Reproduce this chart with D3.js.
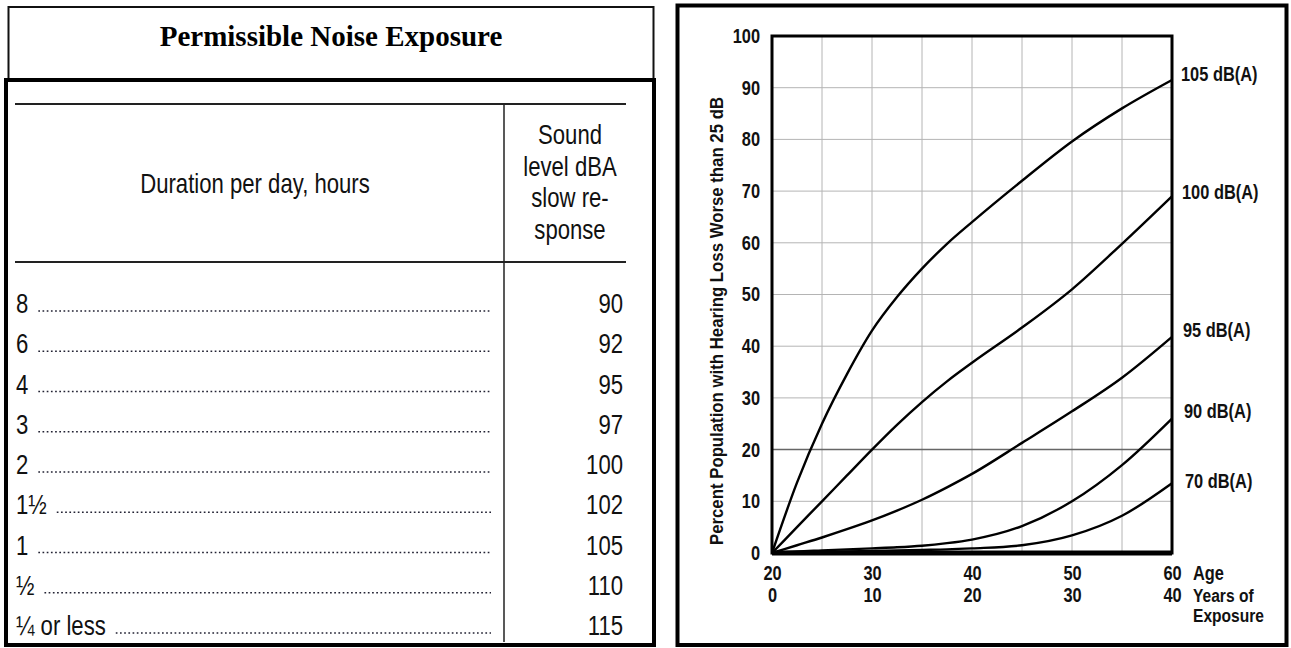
<!DOCTYPE html>
<html>
<head>
<meta charset="utf-8">
<script src="https://cdn.jsdelivr.net/npm/d3@7"></script>
<style>
  body { margin: 0; background: #fff; }
  svg { display: block; }
  .narrow { font-family: "Liberation Sans", Arial, sans-serif; }
</style>
</head>
<body>
<svg id="chart" width="1291" height="648"></svg>
<script>
// ---- table data (left) ----
const tableTitle = "Permissible Noise Exposure";
const durationHeader = "Duration per day, hours";
const levelHeader = ["Sound", "level dBA", "slow re-", "sponse"];
const durations = ["8", "6", "4", "3", "2", "1\u00BD", "1", "\u00BD", "\u00BC or less"];
const soundLevels = [90, 92, 95, 97, 100, 102, 105, 110, 115];

// ---- chart data (right) ----
const ages = [20, 22.5, 25, 27.5, 30, 32.5, 35, 37.5, 40, 45, 50, 55, 60];
const exposureYears = [0, 10, 20, 30, 40];
const curveNames = ["105 dB(A)", "100 dB(A)", "95 dB(A)", "90 dB(A)", "70 dB(A)"];
const loss105 = [0, 13.6, 25, 34.6, 43, 49.5, 55, 59.8, 64, 72, 79.6, 86, 91.5];
const loss100 = [0, 5, 10, 15, 20, 24.8, 29.2, 33.2, 36.8, 43.6, 51, 59.8, 69];
const loss95 = [0, 1.5, 3, 4.6, 6.3, 8.2, 10.3, 12.7, 15.3, 21.3, 27.4, 33.9, 41.8];
const loss90 = [0, 0.3, 0.5, 0.7, 0.9, 1.1, 1.4, 1.9, 2.6, 5.2, 10, 17, 26];
const loss70 = [0, 0.1, 0.2, 0.3, 0.4, 0.5, 0.6, 0.7, 0.9, 1.5, 3.4, 7.2, 13.5];
const yTicks = d3.range(0, 101, 10);
const ageTicks = [20, 30, 40, 50, 60];

const SX = 0.82;   // horizontal squeeze to mimic a condensed face

let svg = d3.select("#chart");

// place a squeezed text at (x, y)
function squeezed(sel, x, y) {
    return sel.attr("x", 0).attr("y", 0)
              .attr("transform", "translate(" + x + "," + y + ") scale(" + SX + ",1)");
}

// ================= left: table =================
let tbl = svg.append("g");

// title box
tbl.append("rect").attr("x", 8.5).attr("y", 7).attr("width", 645).attr("height", 72)
   .attr("fill", "none").attr("stroke", "#111").attr("stroke-width", 2);
tbl.append("text").attr("x", 331).attr("y", 46).attr("text-anchor", "middle")
   .style("font-family", "'Liberation Serif', 'Times New Roman', serif")
   .style("font-weight", "bold").style("font-size", "29px").attr("fill", "#000")
   .text(tableTitle);

// main box (thick)
tbl.append("rect").attr("x", 6).attr("y", 80).attr("width", 648).attr("height", 565)
   .attr("fill", "none").attr("stroke", "#000").attr("stroke-width", 4);

// rules
tbl.append("line").attr("x1", 15).attr("x2", 626).attr("y1", 104).attr("y2", 104)
   .attr("stroke", "#222").attr("stroke-width", 1.8);
tbl.append("line").attr("x1", 15).attr("x2", 626).attr("y1", 262).attr("y2", 262)
   .attr("stroke", "#222").attr("stroke-width", 1.8);
tbl.append("line").attr("x1", 504).attr("x2", 504).attr("y1", 104).attr("y2", 642)
   .attr("stroke", "#222").attr("stroke-width", 1.5);

// headers
tbl.append("text").attr("class", "narrow")
   .attr("text-anchor", "middle").style("font-size", "27px").attr("fill", "#111")
   .text(durationHeader)
   .call(squeezed, 255, 193);

tbl.selectAll("text.lvlhead")
   .data(levelHeader)
   .join("text")
   .attr("class", "lvlhead narrow")
   .attr("text-anchor", "middle")
   .style("font-size", "27px")
   .attr("fill", "#111")
   .text(d => d)
   .each(function (d, i) { d3.select(this).call(squeezed, 570, 144 + i * 31.5); });

// rows
let rowY = d3.scalePoint().domain(durations).range([313, 635]);

let rows = tbl.selectAll("g.row")
   .data(durations.map((d, i) => ({dur: d, level: soundLevels[i]})))
   .join("g")
   .attr("class", "row")
   .attr("transform", d => "translate(0," + rowY(d.dur) + ")");

rows.append("text").attr("class", "narrow dur")
    .style("font-size", "27px").attr("fill", "#111")
    .text(d => d.dur)
    .call(squeezed, 16, 0);

rows.append("text").attr("class", "narrow")
    .attr("text-anchor", "end").style("font-size", "27px").attr("fill", "#111")
    .text(d => d.level)
    .call(squeezed, 623, 0);

// dotted leaders start after each duration label
rows.each(function () {
    let g = d3.select(this);
    let w = g.select("text.dur").node().getComputedTextLength() * SX;
    g.append("line")
     .attr("x1", 16 + w + 10).attr("x2", 491)
     .attr("y1", -2).attr("y2", -2)
     .attr("stroke", "#223").attr("stroke-width", 1.7)
     .attr("stroke-dasharray", "1.7 2.5");
});

// ================= right: chart =================
let chart = svg.append("g");

chart.append("rect").attr("x", 677.5).attr("y", 5.5).attr("width", 609).attr("height", 639.5)
     .attr("fill", "none").attr("stroke", "#000").attr("stroke-width", 4);

let x = d3.scaleLinear().domain([20, 60]).range([772, 1172]);
let y = d3.scaleLinear().domain([0, 100]).range([553, 36]);

// grid
chart.append("g").selectAll("line")
     .data(d3.range(25, 60, 5))
     .join("line")
     .attr("x1", d => x(d)).attr("x2", d => x(d))
     .attr("y1", y(100)).attr("y2", y(0))
     .attr("stroke", "#b4b4b4").attr("stroke-width", 1);

chart.append("g").selectAll("line")
     .data(yTicks.filter(d => d > 0 && d < 100))
     .join("line")
     .attr("x1", x(20)).attr("x2", x(60))
     .attr("y1", d => y(d)).attr("y2", d => y(d))
     .attr("stroke", d => d === 20 ? "#666" : "#b4b4b4")
     .attr("stroke-width", d => d === 20 ? 1.5 : 1);

// curves
let series = [loss105, loss100, loss95, loss90, loss70];
let line = d3.line()
    .x((d, i) => x(ages[i]))
    .y(d => y(d))
    .curve(d3.curveMonotoneX);

chart.append("g").selectAll("path")
     .data(series)
     .join("path")
     .attr("d", d => line(d))
     .attr("fill", "none")
     .attr("stroke", "#000")
     .attr("stroke-width", 2.4);

// frame
chart.append("rect").attr("x", x(20)).attr("y", y(100))
     .attr("width", x(60) - x(20)).attr("height", y(0) - y(100))
     .attr("fill", "none").attr("stroke", "#000").attr("stroke-width", 3);
chart.append("line").attr("x1", x(20)).attr("x2", x(60))
     .attr("y1", y(0)).attr("y2", y(0))
     .attr("stroke", "#000").attr("stroke-width", 5);

// axes
let tickFont = g => g.selectAll("text")
     .attr("class", "narrow")
     .style("font-size", "20px")
     .style("font-weight", "bold")
     .attr("fill", "#111")
     .attr("transform", "scale(" + SX + ",1)");

let yAxis = chart.append("g")
     .attr("transform", "translate(" + x(20) + ",0)")
     .call(d3.axisLeft(y).tickValues(yTicks).tickSize(0).tickPadding(12));
yAxis.select(".domain").remove();
yAxis.call(tickFont);
yAxis.selectAll("text").attr("x", -12 / SX);

let ageAxis = chart.append("g")
     .attr("transform", "translate(0," + y(0) + ")")
     .call(d3.axisBottom(x).tickValues(ageTicks).tickSize(0).tickPadding(13));
ageAxis.select(".domain").remove();
ageAxis.call(tickFont);

let expAxis = chart.append("g")
     .attr("transform", "translate(0," + (y(0) + 22) + ")")
     .call(d3.axisBottom(x).tickValues(ageTicks).tickSize(0).tickPadding(13)
           .tickFormat((d, i) => exposureYears[i]));
expAxis.select(".domain").remove();
expAxis.call(tickFont);

let boldText = (sel, size) => sel.attr("class", "narrow")
     .style("font-size", (size || 20) + "px").style("font-weight", "bold").attr("fill", "#111");

chart.append("text").text("Age").call(boldText, 20).call(squeezed, 1193, 580);
chart.append("text").text("Years of").call(boldText, 19).call(squeezed, 1193, 602);
chart.append("text").text("Exposure").call(boldText, 19).call(squeezed, 1193, 622);

// curve labels at right end
let labelY = [81, 199, 337, 418, 488];
chart.append("g").selectAll("text")
     .data(curveNames)
     .join("text")
     .text(d => d)
     .call(boldText, 20)
     .each(function (d, i) { d3.select(this).call(squeezed, 1181 + i, labelY[i]); });

// y axis title
chart.append("text")
     .attr("transform", "translate(723,321) rotate(-90)")
     .attr("text-anchor", "middle")
     .attr("class", "narrow")
     .style("font-size", "18px").style("font-weight", "bold").attr("fill", "#111")
     .attr("textLength", 448).attr("lengthAdjust", "spacingAndGlyphs")
     .text("Percent Population with Hearing Loss Worse than 25 dB");
</script>
</body>
</html>
